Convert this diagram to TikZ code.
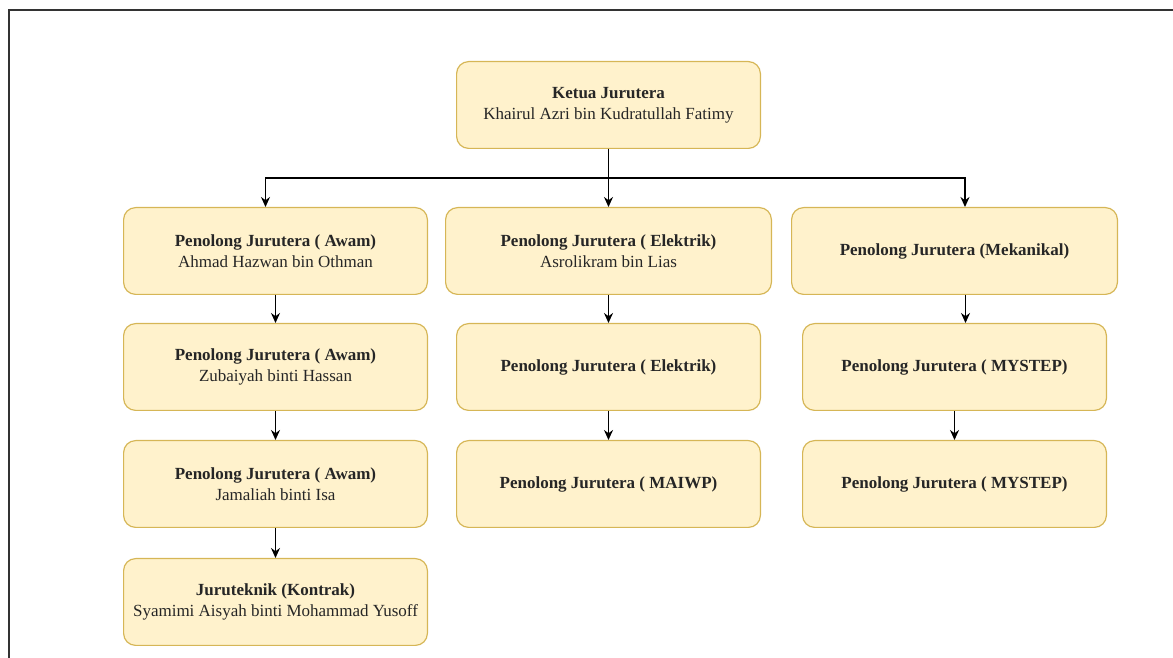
\documentclass[tikz,border=0pt]{standalone}
\usepackage{fontspec}
\setmainfont{Liberation Serif}
\usetikzlibrary{positioning,arrows.meta}

\definecolor{rolefill}{HTML}{FFF2CC}
\definecolor{roleline}{HTML}{D6B656}
\tikzset{
  role/.style={draw=roleline, fill=rolefill, rounded corners=12pt, line width=1.2pt,
    minimum width=303.8pt, minimum height=86.8pt, align=center,
    font=\fontsize{17}{21}\selectfont, text=black!85},
  wide/.style={minimum width=325.8pt},
  link/.style={-{Stealth[length=10pt,width=9pt]}, line width=1.6pt}
}

\begin{document}
\begin{tikzpicture}
\useasboundingbox (0,0) rectangle (1173pt,658pt);
\draw[line width=2pt, black!80] (8.5pt,0) -- (8.5pt,647.5pt) -- (1173pt,647.5pt);

\node[role] (k) at (608.5pt,553pt) {\textbf{Ketua Jurutera}\\Khairul Azri bin Kudratullah Fatimy};
\node[role, wide, below=58pt of k] (e1) {\textbf{Penolong Jurutera ( Elektrik)}\\Asrolikram bin Lias};
\node[role, left=17pt of e1] (a1) {\textbf{Penolong Jurutera ( Awam)}\\Ahmad Hazwan bin Othman};
\node[role, wide, right=19pt of e1] (m1) {\textbf{Penolong Jurutera (Mekanikal)}};
\node[role, below=28pt of a1] (a2) {\textbf{Penolong Jurutera ( Awam)}\\Zubaiyah binti Hassan};
\node[role, below=29pt of a2] (a3) {\textbf{Penolong Jurutera ( Awam)}\\Jamaliah binti Isa};
\node[role, below=30pt of a3] (a4) {\textbf{Juruteknik (Kontrak)}\\Syamimi Aisyah binti Mohammad Yusoff};
\node[role, below=28pt of e1] (e2) {\textbf{Penolong Jurutera ( Elektrik)}};
\node[role, below=29pt of e2] (e3) {\textbf{Penolong Jurutera ( MAIWP)}};
\node[role, below=28pt of m1] (m2) {\textbf{Penolong Jurutera ( MYSTEP)}};
\node[role, below=29pt of m2] (m3) {\textbf{Penolong Jurutera ( MYSTEP)}};

% ketua ke baris pertama
\draw[link] (k.south) -- ++(0,-29pt) -| ([xshift=-10pt]a1.north);
\draw[link] (k.south) -- ++(0,-29pt) -| ([xshift=10.5pt]m1.north);
\draw[link] (k.south) -- (k.south |- e1.north);

% lajur
\draw[link] (a1) -- (a2);
\draw[link] (a2) -- (a3);
\draw[link] (a3) -- (a4);
\draw[link] (e1) -- (e2);
\draw[link] (e2) -- (e3);
\draw[link] ([xshift=11pt]m1.south) -- ([xshift=11pt]m1.south |- m2.north);
\draw[link] (m2) -- (m3);
\end{tikzpicture}
\end{document}
